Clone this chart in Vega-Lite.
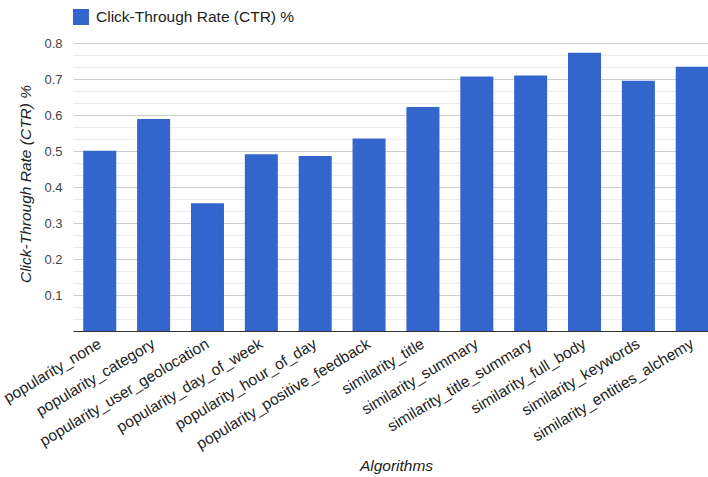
{
  "$schema": "https://vega.github.io/schema/vega-lite/v6.json",
  "autosize": {"type": "none"},
  "width": 635,
  "height": 288,
  "padding": {"left": 73, "top": 43, "right": 0, "bottom": 146},
  "config": {"font": "Liberation Sans", "view": {"stroke": null}},
  "data": {
    "values": [
      {"algorithm": "popularity_none", "ctr": 0.501},
      {"algorithm": "popularity_category", "ctr": 0.589},
      {"algorithm": "popularity_user_geolocation", "ctr": 0.355},
      {"algorithm": "popularity_day_of_week", "ctr": 0.491},
      {"algorithm": "popularity_hour_of_day", "ctr": 0.486},
      {"algorithm": "popularity_positive_feedback", "ctr": 0.535},
      {"algorithm": "similarity_title", "ctr": 0.622},
      {"algorithm": "similarity_summary", "ctr": 0.707},
      {"algorithm": "similarity_title_summary", "ctr": 0.710},
      {"algorithm": "similarity_full_body", "ctr": 0.773},
      {"algorithm": "similarity_keywords", "ctr": 0.695},
      {"algorithm": "similarity_entities_alchemy", "ctr": 0.734}
    ]
  },
  "mark": {"type": "bar", "clip": true},
  "encoding": {
    "x": {
      "field": "algorithm",
      "type": "nominal",
      "sort": null,
      "scale": {"range": [0, 646], "paddingInner": 0.387, "paddingOuter": 0.19},
      "axis": {
        "ticks": false,
        "grid": false,
        "domainColor": "#333333",
        "domainWidth": 1,
        "labelAngle": -31,
        "labelAlign": "right",
        "labelBaseline": "middle",
        "labelFontSize": 15.5,
        "labelColor": "#222222",
        "labelPadding": 11,
        "labelLimit": 400,
        "labelOverlap": false,
        "labelBound": false,
        "title": "Algorithms",
        "titleFontStyle": "italic",
        "titleFontWeight": "normal",
        "titleFontSize": 15.5,
        "titleColor": "#222222",
        "titleX": 323,
        "titleY": 134,
        "titleBaseline": "middle",
        "titleAlign": "center"
      }
    },
    "y": {
      "field": "ctr",
      "type": "quantitative",
      "scale": {"domain": [0, 0.8], "nice": false},
      "axis": {
        "values": [0.0333333, 0.0666667, 0.1, 0.1333333, 0.1666667, 0.2, 0.2333333, 0.2666667, 0.3, 0.3333333, 0.3666667, 0.4, 0.4333333, 0.4666667, 0.5, 0.5333333, 0.5666667, 0.6, 0.6333333, 0.6666667, 0.7, 0.7333333, 0.7666667, 0.8],
        "format": ".1f",
        "labelExpr": "abs(datum.value*10 - round(datum.value*10)) < 0.01 ? datum.label : ''",
        "grid": true,
        "gridColor": {
          "condition": {"test": "abs(datum.value*10 - round(datum.value*10)) < 0.01", "value": "#cccccc"},
          "value": "#ebebeb"
        },
        "ticks": false,
        "domain": false,
        "labelFontSize": 13,
        "labelColor": "#444444",
        "labelPadding": 11,
        "title": "Click-Through Rate (CTR) %",
        "titleFontStyle": "italic",
        "titleFontWeight": "normal",
        "titleFontSize": 15.5,
        "titleColor": "#222222",
        "titleAngle": -90,
        "titleBaseline": "middle",
        "titleAlign": "center",
        "titleX": -48,
        "titleY": 140.5
      }
    },
    "color": {
      "datum": "Click-Through Rate (CTR) %",
      "scale": {"range": ["#3366cc"]},
      "legend": {
        "title": null,
        "orient": "none",
        "legendX": 0,
        "legendY": -34,
        "padding": 0,
        "symbolType": "square",
        "symbolSize": 256,
        "symbolStrokeWidth": 0,
        "symbolOpacity": 1,
        "labelFontSize": 15.5,
        "labelLimit": 400,
        "labelColor": "#222222",
        "labelOffset": 7
      }
    }
  }
}
